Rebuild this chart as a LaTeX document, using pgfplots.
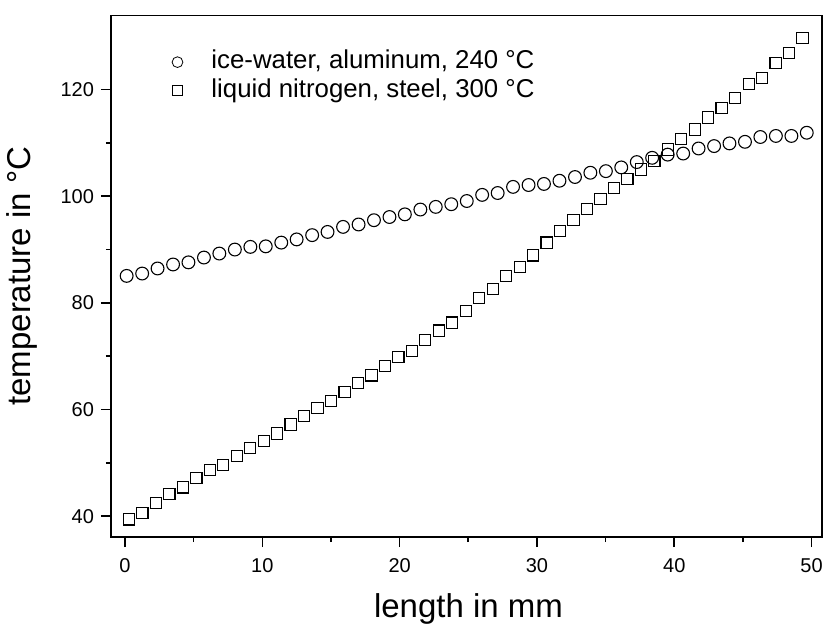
\documentclass[border=0pt]{standalone}
\usepackage{fontspec}
\setmainfont{Liberation Sans}
\usepackage{pgfplots}
\pgfplotsset{compat=1.18}
\begin{document}
\begin{tikzpicture}
\path[use as bounding box] (-55.5pt,-43pt) rectangle (356pt,268.5pt);
\begin{axis}[
  at={(0,0)}, anchor=south west,
  scale only axis, width=355.5pt, height=260.8pt,
  xmin=-1.02, xmax=50.76, ymin=36.1, ymax=133.9,
  xtick={0,10,...,50}, minor x tick num=1,
  ytick={40,60,...,120}, minor y tick num=1,
  tick pos=left, tick align=outside,
  major tick length=5pt, minor tick length=2.6pt,
  axis line style={line width=0.8pt},
  every tick/.style={line width=0.8pt, black},
  /pgf/number format/assume math mode=true,
  tick label style={font=\fontsize{10}{12}\selectfont},
  xticklabel style={yshift=-2pt},
  xlabel={length in mm}, ylabel={temperature in °C},
  label style={font=\fontsize{16.5}{18}\selectfont},
  xlabel style={at={(axis description cs:0.5,0)}, anchor=base, yshift=-40pt, xshift=1pt},
  ylabel style={at={(axis description cs:-0.1139,0.5)}, anchor=base},
  legend style={draw=none, fill=none, at={(axis cs:3.4,127.5)}, anchor=north west,
    font=\fontsize{12.9}{14}\selectfont, inner sep=0pt,
    nodes={inner sep=0pt, text height=9.5pt, text depth=2.7pt},
    row sep=2pt, column sep=0pt},
  legend cell align=left,
  legend image code/.code={\draw[#1, mark options={scale=0.84}] plot coordinates {(0pt,0pt)}; \path[draw=none,fill=none] (-2.7pt,0) -- (17pt,0);},
]
\addplot[only marks, mark=o, mark size=3.2pt, mark options={line width=0.55pt}] coordinates {
(0.12,85.06) (1.25,85.5) (2.37,86.45) (3.50,87.2) (4.62,87.6) (5.75,88.5)
(6.87,89.25) (8.00,90.0) (9.13,90.5) (10.25,90.6) (11.38,91.3) (12.50,91.9)
(13.63,92.7) (14.75,93.3) (15.88,94.25) (17.01,94.7) (18.13,95.5) (19.26,96.1)
(20.38,96.6) (21.51,97.5) (22.63,98.0) (23.76,98.5) (24.89,99.1) (26.01,100.25)
(27.14,100.6) (28.26,101.75) (29.39,102.1) (30.51,102.3) (31.64,102.9) (32.77,103.6)
(33.89,104.4) (35.02,104.7) (36.14,105.4) (37.27,106.4) (38.39,107.2) (39.52,107.8)
(40.65,108.0) (41.77,108.95) (42.90,109.4) (44.02,109.9) (45.15,110.2) (46.27,111.1)
(47.40,111.3) (48.53,111.3) (49.65,111.9)
};
\addlegendentry{ice-water, aluminum, 240 °C}
\addplot[only marks, mark=square, mark size=2.8pt, mark options={line width=0.55pt}] coordinates {
(0.29,39.4) (1.27,40.6) (2.25,42.5) (3.23,44.1) (4.21,45.4) (5.20,47.1)
(6.18,48.6) (7.16,49.6) (8.14,51.3) (9.12,52.8) (10.10,54.1) (11.08,55.5)
(12.06,57.2) (13.04,58.75) (14.02,60.3) (15.01,61.6) (15.99,63.25) (16.97,65.0)
(17.95,66.4) (18.93,68.2) (19.91,69.85) (20.89,71.0) (21.87,73.0) (22.85,74.8)
(23.83,76.3) (24.82,78.5) (25.80,80.9) (26.78,82.6) (27.76,85.0) (28.74,86.7)
(29.72,88.9) (30.70,91.3) (31.68,93.5) (32.66,95.55) (33.64,97.55) (34.63,99.5)
(35.61,101.5) (36.59,103.2) (37.57,105.0) (38.55,106.6) (39.53,108.75) (40.51,110.7)
(41.49,112.5) (42.47,114.75) (43.45,116.55) (44.44,118.4) (45.42,121.0) (46.40,122.1)
(47.38,125.0) (48.36,126.9) (49.34,129.6)
};
\addlegendentry{liquid nitrogen, steel, 300 °C}
\end{axis}
\end{tikzpicture}
\end{document}
